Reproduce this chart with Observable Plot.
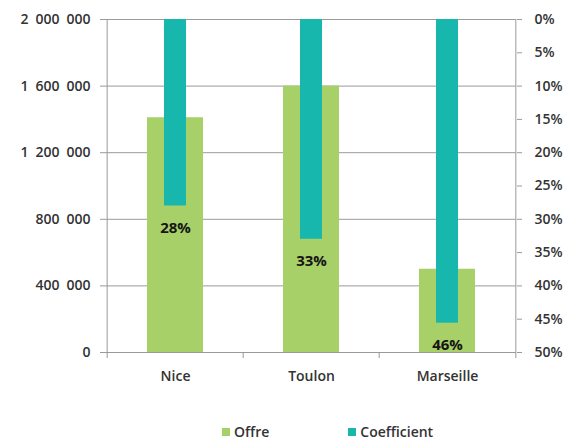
<!DOCTYPE html>
<html>
<head>
<meta charset="utf-8">
<script src="https://cdn.jsdelivr.net/npm/d3@7"></script>
<script src="https://cdn.jsdelivr.net/npm/@observablehq/plot@0.6"></script>
<style>
  body { margin: 0; background: #fff; font-family: "Open Sans", sans-serif; }
  #legend { display: flex; padding-left: 222px; gap: 79px; height: 22px; margin-top: 11px; align-items: center; font-size: 14px; line-height: 18px; font-weight: 600; color: #333; }
  .item { display: flex; align-items: center; gap: 4px; }
  .sw { width: 8px; height: 8px; display: inline-block; }
</style>
</head>
<body>
<div id="chart"></div>
<div id="legend"></div>
<script>
const cities = ["Nice", "Toulon", "Marseille"];
const offre = [1410000, 1600000, 500000];
const coefficient = [0.28, 0.33, 0.456];
const offreTicks = [0, 400000, 800000, 1200000, 1600000, 2000000];
const coefTicks = [0, 0.05, 0.10, 0.15, 0.20, 0.25, 0.30, 0.35, 0.40, 0.45, 0.50];
const seriesNames = ["Offre", "Coefficient"];
const seriesColors = ["#a8d068", "#17b7ae"];

const data = cities.map((city, i) => ({city, offre: offre[i], coef: coefficient[i]}));

const yMax = 2000000, coefMax = 0.5;
const toY = c => yMax * (1 - c / coefMax);
const fromY = y => coefMax * (1 - y / yMax);
const pct = d3.format(".0%");
const fmt = d3.formatLocale({decimal: ",", thousands: "\u2002", grouping: [3], currency: ["", ""]}).format(",d");

const W = 579, H = 410, mL = 106, mR = 63, mT = 19, mB = 58;
const bw = (W - mL - mR) / cities.length;
const grid = "#9a9a9a";

const chart = Plot.plot({
  width: W, height: H,
  marginLeft: mL, marginRight: mR, marginTop: mT, marginBottom: mB,
  style: {fontFamily: "Open Sans", fontSize: "14px", fontWeight: 600, color: "#333", background: "white", overflow: "visible"},
  x: {domain: cities, padding: 0, label: null},
  y: {domain: [0, yMax], label: null},
  marks: [
    Plot.gridY(offreTicks, {stroke: grid, strokeOpacity: 1}),
    Plot.barY(data, {x: "city", y: "offre", fill: seriesColors[0], insetLeft: 40, insetRight: 40}),
    Plot.barY(data, {x: "city", y1: yMax, y2: d => toY(d.coef), fill: seriesColors[1], insetLeft: 57, insetRight: 57}),
    Plot.text(data, {x: "city", y: d => toY(d.coef), dy: 22, text: d => pct(d.coef), fontWeight: "bold", fontSize: 15, fill: "#151515"}),
    Plot.axisY(offreTicks, {anchor: "left", tickFormat: fmt, tickSize: 6, tickPadding: 10, stroke: grid, label: null}),
    Plot.axisY(coefTicks.map(toY), {anchor: "right", tickFormat: y => pct(fromY(y)), tickSize: 5, tickPadding: 13, stroke: grid, label: null}),
    Plot.axisX({tickSize: 0, tickPadding: 19, label: null}),
    Plot.ruleY([0], {stroke: grid}),
    Plot.ruleX([cities[0]], {dx: -bw / 2, y1: 0, y2: yMax, stroke: grid}),
    Plot.ruleX([cities[cities.length - 1]], {dx: bw / 2, y1: 0, y2: yMax, stroke: grid}),
    Plot.ruleX(cities, {dx: -bw / 2, y1: 0, y2: 0, insetBottom: -6, stroke: grid}),
    Plot.ruleX([cities[cities.length - 1]], {dx: bw / 2, y1: 0, y2: 0, insetBottom: -6, stroke: grid})
  ]
});
document.getElementById("chart").appendChild(chart);

const legend = document.getElementById("legend");
seriesNames.forEach((name, i) => {
  const item = document.createElement("div");
  item.className = "item";
  const sw = document.createElement("span");
  sw.className = "sw";
  sw.style.background = seriesColors[i];
  const t = document.createElement("span");
  t.textContent = name;
  item.appendChild(sw);
  item.appendChild(t);
  legend.appendChild(item);
});
</script>
</body>
</html>
